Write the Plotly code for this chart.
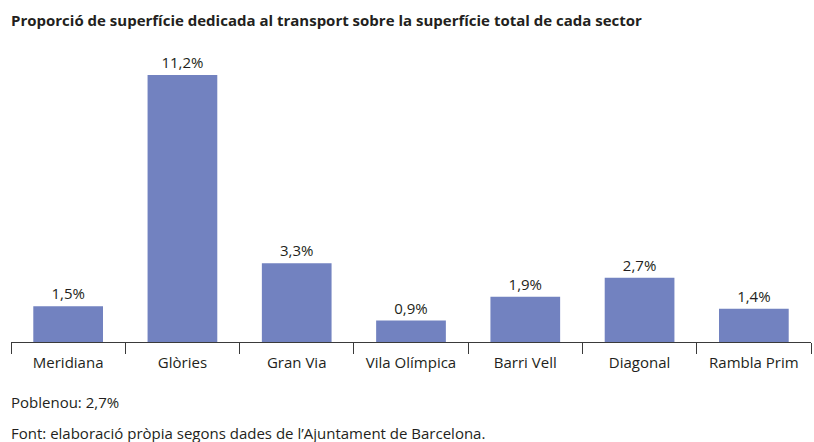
import plotly.graph_objects as go

# Share of surface devoted to transport in each sector (%)
sectors = ["Meridiana", "Glòries", "Gran Via", "Vila Olímpica", "Barri Vell", "Diagonal", "Rambla Prim"]
shares = [1.5, 11.2, 3.3, 0.9, 1.9, 2.7, 1.4]
poblenou_share = 2.7

def pct(v):
    return f"{v:.1f}".replace(".", ",") + "%"

FONT = "'Open Sans', Lato, sans-serif"
TEXT = "#231f20"
BAR = "#7282c0"

W, H = 814, 442
M_L, M_R, M_T, M_B = 11, 3, 55, 100
plot_h = H - M_T - M_B

def py(pix):
    """Paper y coordinate from a pixel row."""
    return (H - M_B - pix) / plot_h

fig = go.Figure(
    go.Bar(
        x=sectors,
        y=shares,
        width=0.61,
        marker=dict(color=BAR, line=dict(width=0)),
        text=[pct(v) for v in shares],
        textposition="outside",
        textfont=dict(family=FONT, size=15, color=TEXT),
        cliponaxis=False,
        hoverinfo="skip",
    )
)

fig.update_layout(
    width=W,
    height=H,
    margin=dict(l=M_L, r=M_R, t=M_T, b=M_B),
    paper_bgcolor="white",
    plot_bgcolor="white",
    showlegend=False,
    font=dict(family=FONT, size=15, color=TEXT),
    xaxis=dict(
        showgrid=False,
        showline=True,
        linecolor="#3a3a3a",
        linewidth=1,
        ticks="outside",
        tickson="boundaries",
        ticklen=11,
        tickcolor="#3a3a3a",
        ticklabelstandoff=7,
        tickfont=dict(family=FONT, size=15, color=TEXT),
        range=[-0.5, 6.5],
        fixedrange=True,
    ),
    yaxis=dict(
        visible=False,
        range=[0, 12.04],
        fixedrange=True,
    ),
    annotations=[
        dict(
            text="<b>Proporció de superfície dedicada al transport sobre la superfície total de cada sector</b>",
            xref="paper", yref="paper", x=-0.002, y=py(20),
            xanchor="left", yanchor="middle", showarrow=False,
            font=dict(family=FONT, size=15, color=TEXT),
        ),
        dict(
            text=f"Poblenou: {pct(poblenou_share)}",
            xref="paper", yref="paper", x=-0.002, y=py(402),
            xanchor="left", yanchor="middle", showarrow=False,
            font=dict(family=FONT, size=15, color=TEXT),
        ),
        dict(
            text="Font: elaboració pròpia segons dades de l’Ajuntament de Barcelona.",
            xref="paper", yref="paper", x=-0.002, y=py(433),
            xanchor="left", yanchor="middle", showarrow=False,
            font=dict(family=FONT, size=15, color=TEXT),
        ),
    ],
)

fig.write_html("out.html", config={"displayModeBar": False})
